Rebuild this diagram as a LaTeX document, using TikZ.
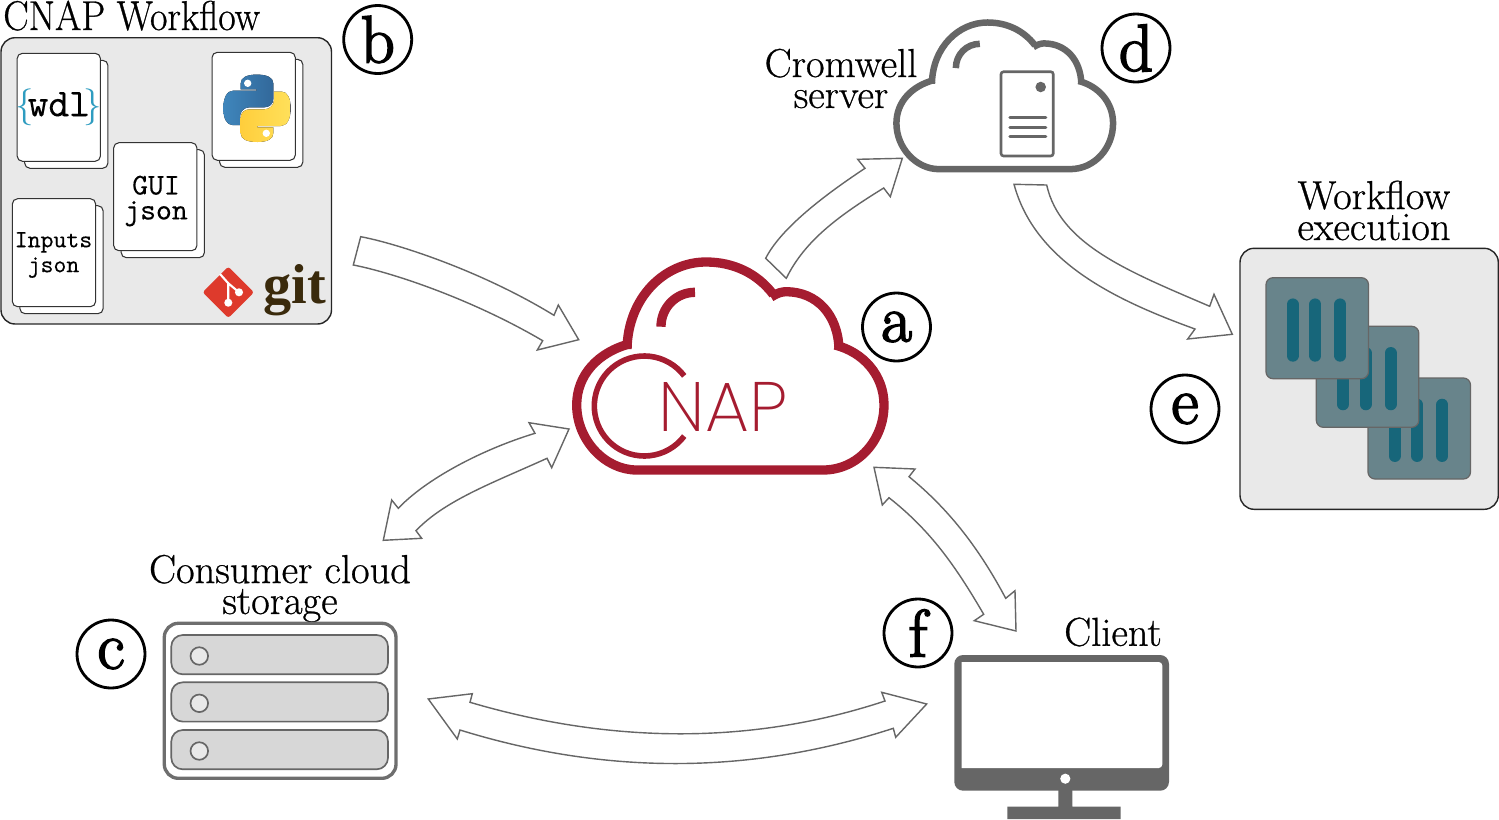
\documentclass[tikz,border=0pt]{standalone}
\usepackage{fontspec}
\newfontfamily\napfont{Poppins ExtraLight}
\newfontfamily\gitfont{Liberation Serif}
\newfontfamily\titlefont[FakeBold=.7]{lmroman17-regular.otf}
\newfontfamily\tagfont[FakeBold=2.6]{lmroman17-regular.otf}
\newfontfamily\cardfont[FakeBold=.15]{lmmono10-regular.otf}
\definecolor{cnapred}{HTML}{A51C30}
\definecolor{icongray}{HTML}{666666}
\definecolor{panelgray}{HTML}{E9E9E9}
\definecolor{rowgray}{HTML}{D7D7D7}
\definecolor{nodeteal}{HTML}{68848B}
\definecolor{barteal}{HTML}{17667A}
\definecolor{wdlblue}{HTML}{2E9CC0}
\definecolor{gitred}{HTML}{DE3A2C}
\definecolor{gitbrown}{HTML}{3A2A0C}
\definecolor{pybluea}{HTML}{3F86BC}
\definecolor{pyblueb}{HTML}{32689A}
\definecolor{pyyellowa}{HTML}{FFCE3C}
\definecolor{pyyellowb}{HTML}{FFE05A}
\tikzset{
  panel/.style={draw=black!85,fill=panelgray,line width=.8pt,rounded corners=8pt},
  card/.style={draw=black!80,fill=white,line width=.6pt,rounded corners=3pt,minimum width=1.667cm,minimum height=2.16cm,inner sep=0pt},
  cardtext/.style={align=center,inner sep=0pt,font=\cardfont\fontsize{17.2}{14.2}\selectfont},
  tag/.style={circle,draw=black,line width=1.6pt,minimum size=1.36cm,inner sep=0pt,font=\tagfont\fontsize{38}{38}\selectfont},
  title/.style={align=center,inner sep=0pt,font=\titlefont\fontsize{23}{17.6}\selectfont},
  blockarrow/.style={draw=icongray,fill=white,line width=.8pt,line join=miter},
  pics/cloudshape/.style={code={
    \draw (-99.3,-22.5) .. controls (-132,-14) and (-153.3,9) .. (-153.3,39)
          .. controls (-153.3,74) and (-125,104) .. (-93.3,104) -- (93,104)
          .. controls (128,104) and (154,74) .. (154,39)
          .. controls (154,9) and (133,-14) .. (105,-21);
    \draw (109,-17) .. controls (108,-51) and (87,-74.3) .. (56,-74.3)
          .. controls (52,-74.3) and (47,-73) .. (41,-69);
    \draw (43.3,-71.5) .. controls (27,-93) and (3,-104) .. (-24,-104)
          .. controls (-65,-104) and (-102,-69) .. (-103,-17);
    \draw (-35,-73.7) .. controls (-54,-73.7) and (-69,-58.5) .. (-69,-39.3);
  }},
  pics/pysnake/.style 2 args={code={
    \fill[left color=#1,right color=#2] (-16.3,-19) -- (-16.3,-25)
          .. controls (-16.3,-30.7) and (-10.3,-33.7) .. (-.3,-33.7)
          .. controls (9.7,-33.7) and (16.3,-31) .. (16.3,-25) -- (16.3,-9.3)
          .. controls (16.3,-4.3) and (12.3,-1) .. (7.3,-1) -- (-7.7,-1)
          .. controls (-12.7,-1) and (-17,3.3) .. (-17,8.3) -- (-17,16.7) -- (-24.7,16.7)
          .. controls (-30.3,16.7) and (-33.7,10) .. (-33.7,0)
          .. controls (-33.7,-10) and (-30.3,-17.7) .. (-23.7,-17.7) -- (-.3,-17.7) -- (-.3,-19) -- cycle;
    \fill[white] (-9.3,-25) circle (2.1pt);
  }},
}
\begin{document}
\begin{tikzpicture}[x=.02cm,y=-.02cm]
\useasboundingbox (0,0) rectangle (1499,819);
%CNAP cloud
\pic[color=cnapred,line width=5.3pt] at (730,366) {cloudshape};
\draw[cnapred,line width=3.2pt,domain=37:323,samples=50] plot ({644.3+50*cos(\x)},{406-50*sin(\x)});
\node[inner sep=0pt,text=cnapred,font=\napfont\fontsize{39.8}{38}\selectfont] (naptext) at (723,406.5) {NAP};
\node[tag] (taga) at (896.5,327) {a};
%workflow repository
\node[title,anchor=base west,xscale=.94,yscale=1.03] (wftitle) at (3,30) {CNAP Workflow};
\draw[panel] (1,37.7) rectangle (331.5,324);
\foreach \cx/\cy/\cname in {58.8/107.3/wdlcard,253.7/106.3/pycard,155.3/196.7/guicard,54/252.7/inputcard}
{
  \node[card] (\cname back) at (\cx+7.5,\cy+7) {};
  \node[card] (\cname) at (\cx,\cy) {};
}
\node[cardtext,font=\cardfont\fontsize{22.5}{21}\selectfont] (wdltext) at (58.8,107) {\textcolor{wdlblue}{\rmfamily\fontsize{21}{21}\selectfont\{}\kern-3.5pt wdl\kern-3.5pt\textcolor{wdlblue}{\rmfamily\fontsize{21}{21}\selectfont\}}};
\node[cardtext] (guitext) at (156,201) {GUI\\json};
\node[cardtext,font=\cardfont\fontsize{14}{14.2}\selectfont] (inputtext) at (53.5,255) {Inputs\\json};
\pic at (257,108.3) {pysnake={pybluea}{pyblueb}};
\pic[rotate=180] at (257,108.3) {pysnake={pyyellowa}{pyyellowb}};
%git logo
\fill[gitred,rounded corners=1.5pt] (228.3,266.6) -- (254,292.3) -- (228.3,318) -- (202.6,292.3) -- cycle;
\draw[white,line width=1.2pt] (220,274) -- (228.3,283.3) -- (228.3,302.7) (228.3,283.3) -- (239,292.3);
\fill[white] (228.3,302.7) circle (2.3pt) (239,292.3) circle (2.3pt);
\node[inner sep=0pt,anchor=base,text=gitbrown,font=\gitfont\bfseries\fontsize{32}{32}\selectfont] (gittext) at (295,303) {git};
\node[tag] (tagb) at (377.7,39.5) {b};
%storage
\node[title] (storagetitle) at (280,588.5) {Consumer cloud\\storage};
\draw[draw=icongray!95,line width=1.9pt,rounded corners=8pt] (164.3,623.3) rectangle (396,778.3);
\foreach \ry in {635,682.3,730}
{
  \draw[draw=icongray,fill=rowgray,line width=.95pt,rounded corners=6.5pt] (171.3,\ry) rectangle (388,\ry+39.3);
  \draw[draw=icongray,fill=panelgray,line width=.95pt] (199.3,\ry+21) circle (5pt);
}
\node[tag] (tagc) at (111,654) {c};
%cromwell
\pic[color=icongray,line width=3.7pt,scale=.705] at (1004.5,95.8) {cloudshape};
\draw[icongray,line width=1.5pt,rounded corners=1.5pt] (1001,71.7) rectangle (1053.3,156);
\fill[icongray] (1040.7,87) circle (3pt);
\foreach \ly in {117.3,127.3,136.7}
  \draw[icongray,line width=1.9pt,line cap=round] (1010,\ly) -- (1045.7,\ly);
\node[title] (cromwelltitle) at (841,78.5) {Cromwell\\server};
\node[tag] (tagd) at (1136,48) {d};
%execution
\node[title] (exectitle) at (1374,210.5) {Workflow\\execution};
\draw[panel] (1240,248.3) rectangle (1498.3,509.3);
\foreach \sx/\sy in {1368/378,1316.3/326.3,1266/277.7}
{
  \draw[draw=icongray,fill=nodeteal,line width=.7pt,rounded corners=4pt] (\sx,\sy) rectangle (\sx+102.5,\sy+101);
  \foreach \bx in {26.7,49.3,74.3}
    \draw[barteal,line width=6.8pt,line cap=round] (\sx+\bx,\sy+26.7) -- (\sx+\bx,\sy+78);
}
\node[tag] (tage) at (1185,409) {e};
%client
\node[title] (clienttitle) at (1113,632) {Client};
\fill[icongray,rounded corners=5pt] (954.3,655) rectangle (1169,790.7);
\fill[white,rounded corners=2pt] (961.7,662) -- (1162.3,662) -- (1162.3,768) [sharp corners] -- (961.7,768) -- cycle;
\fill[white] (1065.3,778.7) circle (2.9pt);
\fill[icongray] (1058.3,790) rectangle (1072.3,806.7) (1007.3,806.7) rectangle (1120.7,819);
\node[tag] (tagf) at (918,633) {f};
%arrows
\coordinate (wfstart) at (360.7,236.7);
\coordinate (cnaptipb) at (578.7,339.7);
\coordinate (cnaptipd) at (765.7,258.3);
\coordinate (cromwelltip) at (902.3,158.3);
\coordinate (cromwellstart) at (1014,184.3);
\coordinate (exectip) at (1232.3,334.3);
\coordinate (cnaptipc) at (569,429);
\coordinate (storagetipa) at (383.3,540.3);
\coordinate (cnaptipf) at (874,467.3);
\coordinate (clienttipa) at (1016,631);
\coordinate (storagetipf) at (428.3,699);
\coordinate (clienttipc) at (926.7,704);
\draw[blockarrow] (wfstart) .. controls (395,243) and (480,270) .. (554,315.3) -- (558.3,305) -- (cnaptipb) -- (537.3,350) -- (542.7,340.7)
      .. controls (470,298) and (390,272) .. (353.3,265) -- cycle;
\draw[blockarrow] (cnaptipd) .. controls (780,230) and (820,198) .. (865,168.3) -- (857.7,159.3) -- (cromwelltip) -- (890.3,196.7) -- (883.7,188)
      .. controls (840,215) and (805,240) .. (786.3,278.3) -- cycle;
\draw[blockarrow] (cromwellstart) -- (1046.7,185) .. controls (1060,245) and (1130,272) .. (1209.7,306.3) -- (1214,294.3) -- (exectip) -- (1187.7,339) -- (1195,329)
      .. controls (1115,300) and (1035,262) .. (cromwellstart) -- cycle;
\draw[blockarrow] (cnaptipc) -- (529,422.7) -- (535,433.3) .. controls (480,450) and (425,480) .. (398.3,508.3) -- (391.7,500) -- (storagetipa) -- (421.7,538.3) -- (416,530.7)
      .. controls (445,500) and (495,482) .. (547,458.3) -- (551.7,467.7) -- cycle;
\draw[blockarrow] (cnaptipf) -- (915,469) -- (909,476.7) .. controls (950,510) and (980,550) .. (1005.7,598.3) -- (1015,590.7) -- (clienttipa) -- (974.3,620.7) -- (983.7,614.3)
      .. controls (955,565) and (930,530) .. (889,497.7) -- (882.3,505) -- cycle;
\draw[blockarrow] (storagetipf) -- (472.3,693.7) -- (470,702.3) .. controls (615,745) and (755,744) .. (885,701) -- (881.7,692.3) -- (clienttipc) -- (895.7,737.3) -- (893.3,728.3)
      .. controls (750,775) and (605,775) .. (460,730) -- (457.3,739) -- cycle;
\end{tikzpicture}
\end{document}
